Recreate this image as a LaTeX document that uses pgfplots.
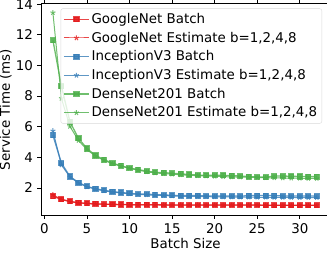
\documentclass[border=0pt]{standalone}
\usepackage{pgfplots}
\pgfplotsset{compat=1.18}
\usepackage{pgfplotstable}
\usepackage{fontspec}
\setmainfont{DejaVu Sans}
\definecolor{cR}{HTML}{E41A1C}
\definecolor{cB}{HTML}{377EB8}
\definecolor{cG}{HTML}{4DAF4A}
\pgfplotstableread{
b gb ge ib ie db de
1 1.45 1.56 5.45 5.73 11.65 13.45
2 1.26 1.24 3.62 3.50 8.65 7.85
3 1.12 1.10 2.75 2.72 6.32 6.02
4 1.04 1.02 2.35 2.32 5.24 5.10
5 0.99 0.98 2.10 2.07 4.58 4.50
6 0.96 0.95 1.95 1.92 4.12 4.08
7 0.94 0.93 1.84 1.81 3.85 3.80
8 0.93 0.92 1.76 1.73 3.62 3.58
9 0.92 0.91 1.70 1.67 3.45 3.42
10 0.91 0.90 1.65 1.62 3.30 3.28
11 0.90 0.90 1.60 1.58 3.20 3.16
12 0.90 0.89 1.60 1.55 3.10 3.06
13 0.90 0.89 1.56 1.52 3.02 2.98
14 0.89 0.89 1.54 1.50 3.00 2.94
15 0.89 0.88 1.52 1.48 2.96 2.90
16 0.89 0.88 1.50 1.46 2.92 2.86
17 0.89 0.88 1.50 1.45 2.88 2.83
18 0.88 0.88 1.50 1.44 2.84 2.80
19 0.88 0.87 1.48 1.43 2.82 2.78
20 0.88 0.87 1.48 1.42 2.84 2.76
21 0.88 0.87 1.48 1.41 2.82 2.74
22 0.88 0.87 1.48 1.41 2.80 2.72
23 0.88 0.87 1.46 1.40 2.78 2.71
24 0.88 0.87 1.50 1.40 2.74 2.70
25 0.88 0.87 1.50 1.39 2.72 2.68
26 0.87 0.87 1.50 1.39 2.70 2.67
27 0.87 0.86 1.50 1.38 2.78 2.66
28 0.87 0.86 1.48 1.38 2.78 2.65
29 0.87 0.86 1.48 1.38 2.76 2.64
30 0.87 0.86 1.48 1.37 2.75 2.63
31 0.87 0.86 1.48 1.37 2.74 2.62
32 0.87 0.86 1.46 1.37 2.74 2.62
}\data
\begin{document}
\fontsize{13.4}{16}\selectfont
\begin{tikzpicture}
\begin{axis}[
  at={(0,0)}, anchor=south west,
  scale only axis, width=289pt, height=212pt,
  xmin=-0.4, xmax=33.55, ymin=0.2, ymax=14.05,
  xtick={0,5,...,30}, ytick={2,4,...,14},
  tick align=outside, major tick length=3.5pt,
  tick style={black, line width=0.8pt},
  axis line style={line width=0.8pt},
  ticklabel style={font=\fontsize{13.4}{16}\selectfont},
  /pgf/number format/assume math mode=true,
  xlabel={Batch Size}, ylabel={Service Time (ms)},
  label style={font=\fontsize{13.4}{16}\selectfont},
  xlabel style={yshift=5pt}, ylabel style={yshift=-5pt},
  legend cell align=left,
  legend style={at={(1,1)}, anchor=north east, xshift=-8pt, yshift=-5pt,
    font=\fontsize{13.4}{16}\selectfont, draw=black!15, rounded corners=2pt,
    fill=white, fill opacity=0.8, text opacity=1, inner sep=2.5pt,
    row sep=2.5pt, nodes={inner sep=2pt}},
  legend image code/.code={\draw[mark repeat=2,mark phase=2] plot coordinates {(0pt,0pt)(12.5pt,0pt)(25pt,0pt)};},
]
\addplot[cR, line width=1.3pt, draw opacity=0.8, mark=square*, mark size=2.4pt, mark options={solid, fill opacity=0.9}] table[x=b,y=gb]{\data};
\addlegendentry{GoogleNet Batch}
\addplot[cR, line width=1pt, draw opacity=0.8, mark=star, mark size=2.6pt, mark options={solid,line width=1pt}] table[x=b,y=ge]{\data};
\addlegendentry{GoogleNet Estimate b=1,2,4,8}
\addplot[cB, line width=1.3pt, draw opacity=0.8, mark=square*, mark size=2.4pt, mark options={solid, fill opacity=0.9}] table[x=b,y=ib]{\data};
\addlegendentry{InceptionV3 Batch}
\addplot[cB, line width=1pt, draw opacity=0.8, mark=star, mark size=2.6pt, mark options={solid,line width=1pt}] table[x=b,y=ie]{\data};
\addlegendentry{InceptionV3 Estimate b=1,2,4,8}
\addplot[cG, line width=1.3pt, draw opacity=0.8, mark=square*, mark size=2.4pt, mark options={solid, fill opacity=0.9}] table[x=b,y=db]{\data};
\addlegendentry{DenseNet201 Batch}
\addplot[cG, line width=1pt, draw opacity=0.8, mark=star, mark size=2.6pt, mark options={solid,line width=1pt}] table[x=b,y=de]{\data};
\addlegendentry{DenseNet201 Estimate b=1,2,4,8}
\end{axis}
\pgfresetboundingbox
\useasboundingbox (-41pt,-40.5pt) rectangle (286pt,215.5pt);
\end{tikzpicture}
\end{document}
